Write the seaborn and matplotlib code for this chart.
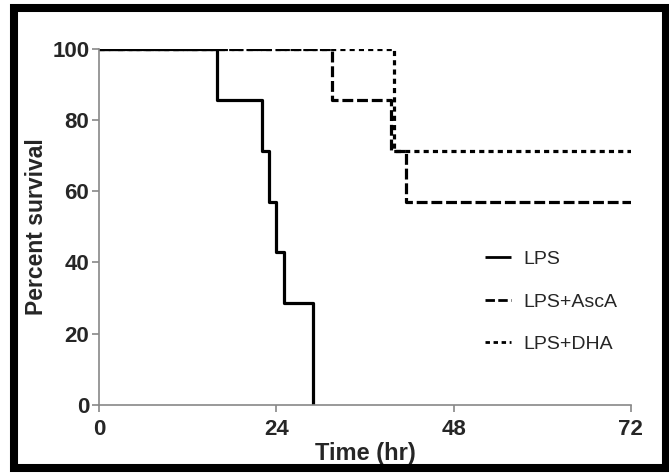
import matplotlib
matplotlib.use("Agg")
import matplotlib.pyplot as plt
import seaborn as sns
import pandas as pd
from matplotlib.patches import Rectangle

# Data (Kaplan-Meier steps)
lps_time = [0, 16, 22, 23, 24, 25, 29]
lps_surv = [100, 85.7, 71.4, 57.1, 42.9, 28.6, 0]
asca_time = [0, 31.5, 39.5, 41.5, 72]
asca_surv = [100, 85.7, 71.4, 57.1, 57.1]
dha_time = [0, 40, 72]
dha_surv = [100, 71.4, 71.4]
groups = ["LPS", "LPS+AscA", "LPS+DHA"]
x_ticks = [0, 24, 48, 72]
y_ticks = [0, 20, 40, 60, 80, 100]

sns.set_style("white")
plt.rcParams["font.family"] = ["Liberation Sans", "DejaVu Sans"]

fig = plt.figure(figsize=(6.69, 4.74), dpi=100)
ax = fig.add_axes([0.148, 0.146, 0.795, 0.751])

styles = {"LPS": (0, ()), "LPS+AscA": (0, (3.4, 1.2)), "LPS+DHA": (0, (1.6, 1.3))}
series = [(lps_time, lps_surv), (asca_time, asca_surv), (dha_time, dha_surv)]
for g, (t, s) in zip(groups, series):
    df = pd.DataFrame({"time": t, "surv": s})
    sns.lineplot(data=df, x="time", y="surv", ax=ax, color="black", lw=2.3,
                 drawstyle="steps-post", estimator=None, sort=False,
                 linestyle=styles[g], label=g)

ax.set_xlim(0, 72)
ax.set_ylim(0, 100)
ax.set_xticks(x_ticks)
ax.set_yticks(y_ticks)
ax.set_xticklabels([str(v) for v in x_ticks], fontsize=16, fontweight="bold")
ax.set_yticklabels([str(v) for v in y_ticks], fontsize=16, fontweight="bold")
ax.set_xlabel("Time (hr)", fontsize=17, fontweight="bold", labelpad=2)
ax.set_ylabel("Percent survival", fontsize=16.5, fontweight="bold", labelpad=3)

for side in ["top", "right"]:
    ax.spines[side].set_visible(False)
for side in ["left", "bottom"]:
    ax.spines[side].set_color("#888888")
    ax.spines[side].set_linewidth(1.2)
    ax.spines[side].set_clip_on(False)
ax.tick_params(axis="both", direction="out", length=5, width=1.2, color="#888888",
               bottom=True, left=True)
ax.tick_params(axis="x", pad=5)
ax.tick_params(axis="y", pad=2)

leg = ax.legend(loc="upper left", bbox_to_anchor=(0.712, 0.455), frameon=False,
                fontsize=14, handlelength=1.3, handletextpad=0.67, labelspacing=1.27,
                borderaxespad=0)
for line in leg.get_lines():
    line.set_linewidth(2.0)

fig.patches.append(Rectangle((0.0209, 0.0127), 0.9739, 0.9713, transform=fig.transFigure,
                             fill=False, edgecolor="black", linewidth=5.8, zorder=10,
                             joinstyle="miter"))

fig.savefig("out.png", dpi=100)
